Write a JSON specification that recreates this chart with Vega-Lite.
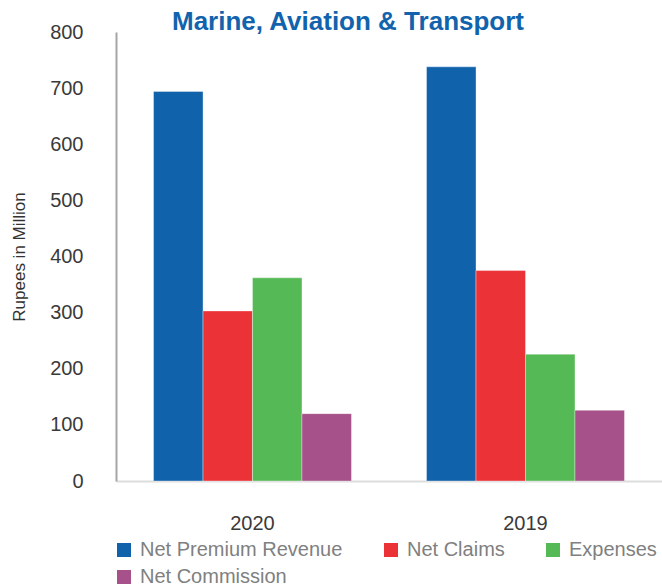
{
  "$schema": "https://vega.github.io/schema/vega-lite/v6.json",
  "width": 546,
  "height": 449,
  "autosize": {"type": "none"},
  "padding": {"left": 116, "top": 32, "right": 0, "bottom": 107},
  "background": "#ffffff",
  "config": {
    "view": {"stroke": null},
    "font": "Liberation Sans"
  },
  "title": {
    "text": "Marine, Aviation & Transport",
    "anchor": "start",
    "frame": "group",
    "dx": 56,
    "dy": 34,
    "fontSize": 26,
    "fontWeight": "bold",
    "color": "#1263AD",
    "font": "Liberation Sans",
    "baseline": "alphabetic",
    "offset": 0
  },
  "data": {
    "values": [
      {"year": "2020", "measure": "Net Premium Revenue", "value": 694},
      {"year": "2020", "measure": "Net Claims", "value": 303},
      {"year": "2020", "measure": "Expenses", "value": 362},
      {"year": "2020", "measure": "Net Commission", "value": 120},
      {"year": "2019", "measure": "Net Premium Revenue", "value": 738},
      {"year": "2019", "measure": "Net Claims", "value": 375},
      {"year": "2019", "measure": "Expenses", "value": 226},
      {"year": "2019", "measure": "Net Commission", "value": 126}
    ]
  },
  "mark": {"type": "bar", "stroke": "#ffffff", "strokeWidth": 0.6, "strokeOpacity": 0.6},
  "encoding": {
    "x": {
      "field": "year",
      "type": "nominal",
      "sort": ["2020", "2019"],
      "scale": {"paddingInner": 0.275, "paddingOuter": 0.1375},
      "axis": {
        "title": null,
        "labelAngle": 0,
        "labelFontSize": 20,
        "labelColor": "#3a3a3a",
        "labelPadding": 32,
        "ticks": false,
        "domainColor": "#dddddd",
        "domainWidth": 2
      }
    },
    "xOffset": {
      "field": "measure",
      "type": "nominal",
      "sort": ["Net Premium Revenue", "Net Claims", "Expenses", "Net Commission"],
      "scale": {"paddingInner": 0, "paddingOuter": 0}
    },
    "y": {
      "field": "value",
      "type": "quantitative",
      "scale": {"domain": [0, 800]},
      "axis": {
        "title": "Rupees in Million",
        "titleFontSize": 17,
        "titleFontWeight": "normal",
        "titleColor": "#333333",
        "titlePadding": 21,
        "values": [0, 100, 200, 300, 400, 500, 600, 700, 800],
        "labelFontSize": 20,
        "labelColor": "#3a3a3a",
        "labelPadding": 33,
        "ticks": false,
        "grid": false,
        "domainColor": "#a6a6a6",
        "domainWidth": 2
      }
    },
    "color": {
      "field": "measure",
      "type": "nominal",
      "sort": ["Net Premium Revenue", "Net Claims", "Expenses", "Net Commission"],
      "scale": {
        "domain": ["Net Premium Revenue", "Net Claims", "Expenses", "Net Commission"],
        "range": ["#1062AA", "#EB3237", "#55B955", "#A65189"]
      },
      "legend": {
        "title": null,
        "orient": "none",
        "legendX": -2,
        "legendY": 508,
        "direction": "horizontal",
        "columns": 3,
        "columnPadding": 38,
        "rowPadding": 7,
        "symbolType": "square",
        "symbolSize": 196,
        "symbolStrokeWidth": 0,
        "labelFontSize": 20,
        "labelColor": "#808080",
        "labelOffset": 6,
        "labelLimit": 400
      }
    }
  }
}
